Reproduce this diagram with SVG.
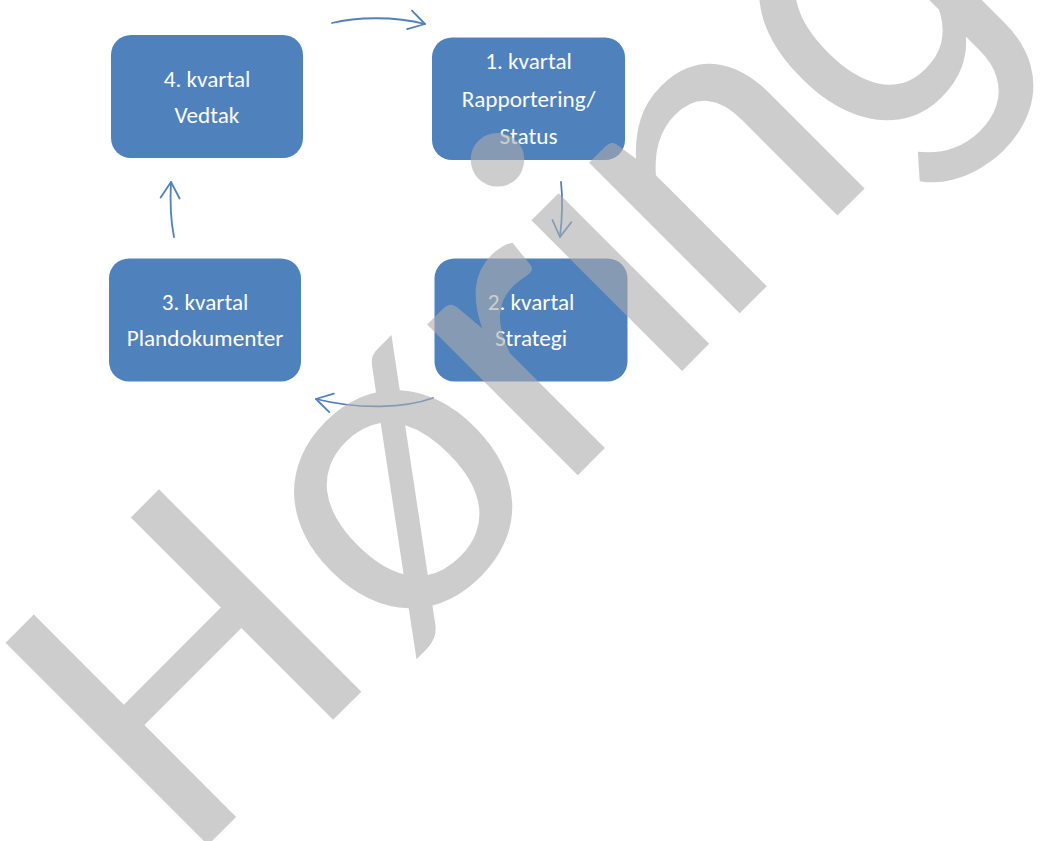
<svg xmlns="http://www.w3.org/2000/svg" width="1040" height="841" viewBox="0 0 1040 841">
  <style>
    .box { fill: #4F81BD; }
    .lbl { font-family: Carlito, Calibri, Lato, "Open Sans", sans-serif; font-size: 23.2px; fill: #FFFFFF; text-anchor: middle; }
    .conn { fill: none; stroke: #4F81BD; stroke-width: 1.8; stroke-linecap: round; }
    .wm { font-family: Carlito, Calibri, Lato, sans-serif; font-size: 446px; fill: #ACACAC; fill-opacity: 0.6; }
    .wmg { font-family: Roboto, "Liberation Sans", sans-serif; font-size: 410px; }
  </style>
  <defs>
    <marker id="arr" markerUnits="userSpaceOnUse" markerWidth="24" markerHeight="24" viewBox="-20 -12 24 24" refX="0" refY="0" orient="auto">
      <path d="M-16,-9.5 L0,0 L-16,9.5" fill="none" stroke="#4F81BD" stroke-width="1.8" stroke-linecap="round" stroke-linejoin="round"/>
    </marker>
  </defs>
  <rect width="1040" height="841" fill="#FFFFFF"/>

  <g id="node-q4">
    <rect class="box" x="111" y="35" width="192" height="123" rx="20" ry="20"/>
    <text class="lbl" x="207" y="87">4. kvartal</text>
    <text class="lbl" x="207" y="122.5">Vedtak</text>
  </g>
  <g id="node-q1">
    <rect class="box" x="432" y="37.5" width="193" height="122.5" rx="20" ry="20"/>
    <text class="lbl" x="528.5" y="69">1. kvartal</text>
    <text class="lbl" x="528.5" y="106.5">Rapportering/</text>
    <text class="lbl" x="528.5" y="144">Status</text>
  </g>
  <g id="node-q3">
    <rect class="box" x="109" y="258.5" width="192" height="123" rx="20" ry="20"/>
    <text class="lbl" x="205" y="310">3. kvartal</text>
    <text class="lbl" x="205" y="345.5">Plandokumenter</text>
  </g>
  <g id="node-q2">
    <rect class="box" x="434.5" y="258.5" width="193" height="123" rx="20" ry="20"/>
    <text class="lbl" x="531" y="310">2. kvartal</text>
    <text class="lbl" x="531" y="345.5">Strategi</text>
  </g>

  <g id="connectors">
    <path class="conn" d="M332,23 C355,17 395,16 425,24" marker-end="url(#arr)"/>
    <path class="conn" d="M561,182 C563,200 562,220 560,237" marker-end="url(#arr)"/>
    <path class="conn" d="M433,398 C405,408 360,410 316,399" marker-end="url(#arr)"/>
    <path class="conn" d="M174,237 C171,222 170,200 171,182" marker-end="url(#arr)"/>
  </g>

  <g id="watermark" transform="rotate(-45)">
    <text class="wm" x="-481 -186 44 188 271" y="744.6">Hørin<tspan class="wmg" x="492" dy="-14">g</tspan></text>
  </g>
</svg>
